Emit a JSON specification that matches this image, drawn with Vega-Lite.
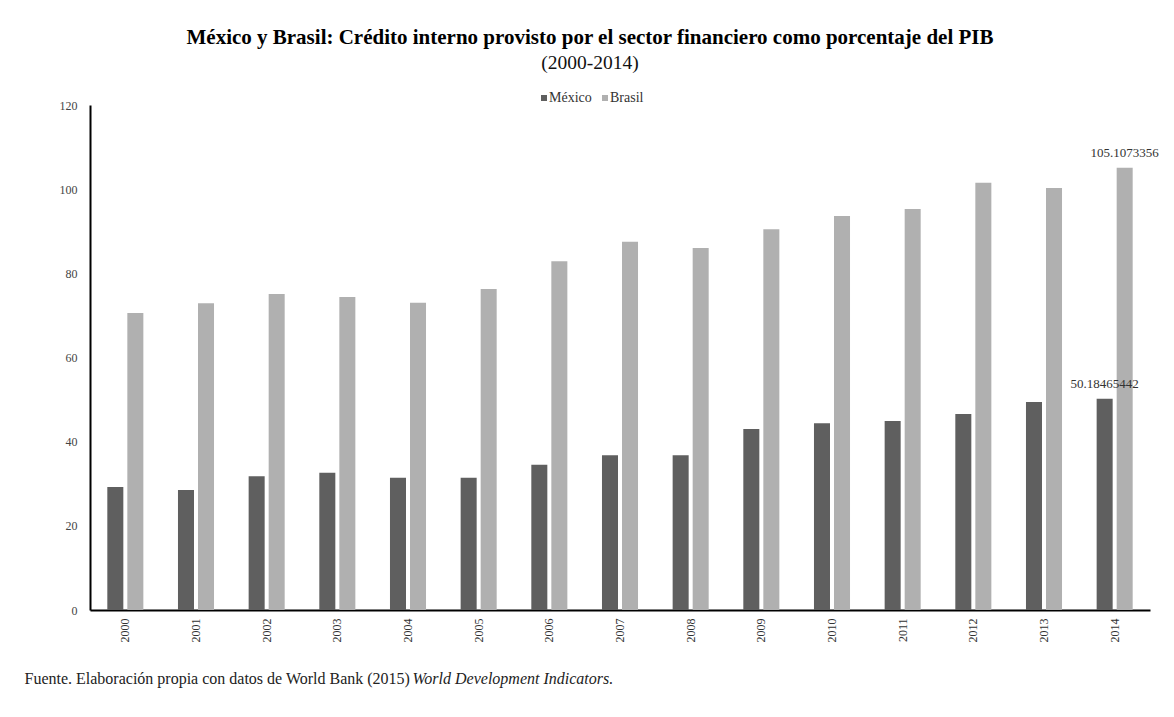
{
  "$schema": "https://vega.github.io/schema/vega-lite/v6.json",
  "autosize": "none",
  "padding": {"left": 90, "top": 105, "right": 24, "bottom": 107},
  "width": 1060,
  "height": 505,
  "background": "white",
  "config": {
    "view": {"stroke": null},
    "font": "Liberation Serif"
  },
  "title": {
    "text": "México y Brasil: Crédito interno provisto por el sector financiero como porcentaje del PIB",
    "subtitle": "(2000-2014)",
    "font": "Liberation Serif",
    "fontSize": 21,
    "fontWeight": "bold",
    "color": "#000000",
    "subtitleFont": "Liberation Serif",
    "subtitleFontSize": 19.5,
    "subtitleColor": "#111111",
    "subtitlePadding": 6,
    "anchor": "middle",
    "frame": "group",
    "offset": 19,
    "dx": -30
  },
  "data": {
    "values": [
      {"year": "2000", "country": "México", "value": 29.2},
      {"year": "2001", "country": "México", "value": 28.5},
      {"year": "2002", "country": "México", "value": 31.8},
      {"year": "2003", "country": "México", "value": 32.6},
      {"year": "2004", "country": "México", "value": 31.4},
      {"year": "2005", "country": "México", "value": 31.4},
      {"year": "2006", "country": "México", "value": 34.5},
      {"year": "2007", "country": "México", "value": 36.8},
      {"year": "2008", "country": "México", "value": 36.8},
      {"year": "2009", "country": "México", "value": 43.0},
      {"year": "2010", "country": "México", "value": 44.4},
      {"year": "2011", "country": "México", "value": 44.9},
      {"year": "2012", "country": "México", "value": 46.6},
      {"year": "2013", "country": "México", "value": 49.4},
      {"year": "2014", "country": "México", "value": 50.18465442},
      {"year": "2000", "country": "Brasil", "value": 70.6},
      {"year": "2001", "country": "Brasil", "value": 72.9},
      {"year": "2002", "country": "Brasil", "value": 75.1},
      {"year": "2003", "country": "Brasil", "value": 74.4},
      {"year": "2004", "country": "Brasil", "value": 73.0},
      {"year": "2005", "country": "Brasil", "value": 76.3},
      {"year": "2006", "country": "Brasil", "value": 82.9},
      {"year": "2007", "country": "Brasil", "value": 87.5},
      {"year": "2008", "country": "Brasil", "value": 86.0},
      {"year": "2009", "country": "Brasil", "value": 90.5},
      {"year": "2010", "country": "Brasil", "value": 93.6},
      {"year": "2011", "country": "Brasil", "value": 95.3},
      {"year": "2012", "country": "Brasil", "value": 101.5},
      {"year": "2013", "country": "Brasil", "value": 100.3},
      {"year": "2014", "country": "Brasil", "value": 105.1073356}
    ]
  },
  "layer": [
    {
      "mark": {"type": "bar"},
      "encoding": {
        "x": {
          "field": "year",
          "type": "nominal",
          "sort": null,
          "scale": {"paddingInner": 0.49, "paddingOuter": 0.245},
          "axis": {
            "orient": "bottom",
            "labelAngle": 270,
            "labelFont": "Liberation Serif",
            "labelFontSize": 12,
            "labelColor": "#333333",
            "labelPadding": 8,
            "ticks": false,
            "domainColor": "#000000",
            "domainWidth": 2,
            "title": "Fuente. Elaboración propia con datos de World Bank (2015)",
            "titleFont": "Liberation Serif",
            "titleFontSize": 16,
            "titleFontWeight": "normal",
            "titleColor": "#222222",
            "titleAnchor": "start",
            "titleAlign": "left",
            "titleBaseline": "alphabetic",
            "titleX": -66,
            "titleY": 73
          }
        },
        "xOffset": {
          "field": "country",
          "type": "nominal",
          "sort": ["México", "Brasil"],
          "scale": {"paddingInner": 0.2, "paddingOuter": 0}
        },
        "y": {
          "field": "value",
          "type": "quantitative",
          "scale": {"domain": [0, 120], "nice": false},
          "axis": {
            "values": [0, 20, 40, 60, 80, 100, 120],
            "grid": false,
            "ticks": false,
            "labelFont": "Liberation Serif",
            "labelFontSize": 12,
            "labelColor": "#444444",
            "labelPadding": 13,
            "domainColor": "#000000",
            "domainWidth": 2,
            "title": null
          }
        },
        "color": {
          "field": "country",
          "type": "nominal",
          "sort": ["México", "Brasil"],
          "scale": {"domain": ["México", "Brasil"], "range": ["#5f5f5f", "#b0b0b0"]},
          "legend": {
            "orient": "none",
            "direction": "horizontal",
            "legendX": 447,
            "legendY": -14,
            "title": null,
            "symbolType": "square",
            "symbolSize": 36,
            "symbolStrokeWidth": 0,
            "labelFont": "Liberation Serif",
            "labelFontSize": 14,
            "labelColor": "#333333",
            "labelOffset": -2,
            "columnPadding": 6
          }
        }
      }
    },
    {
      "transform": [{"filter": "datum.year == '2014'"}],
      "mark": {
        "type": "text",
        "baseline": "alphabetic",
        "dy": -11,
        "font": "Liberation Serif",
        "fontSize": 13,
        "color": "#333333"
      },
      "encoding": {
        "x": {
          "field": "year",
          "type": "nominal",
          "sort": null,
          "axis": {
            "orient": "top",
            "labels": false,
            "ticks": false,
            "domain": false,
            "title": "World Development Indicators.",
            "titleFont": "Liberation Serif",
            "titleFontSize": 16,
            "titleFontWeight": "normal",
            "titleFontStyle": "italic",
            "titleColor": "#222222",
            "titleAnchor": "start",
            "titleAlign": "left",
            "titleBaseline": "alphabetic",
            "titleX": 322,
            "titleY": 578
          }
        },
        "xOffset": {"field": "country", "type": "nominal", "sort": ["México", "Brasil"]},
        "y": {"field": "value", "type": "quantitative"},
        "text": {"field": "value", "type": "quantitative", "format": ".10~r"}
      }
    }
  ],
  "resolve": {"axis": {"x": "independent"}}
}
